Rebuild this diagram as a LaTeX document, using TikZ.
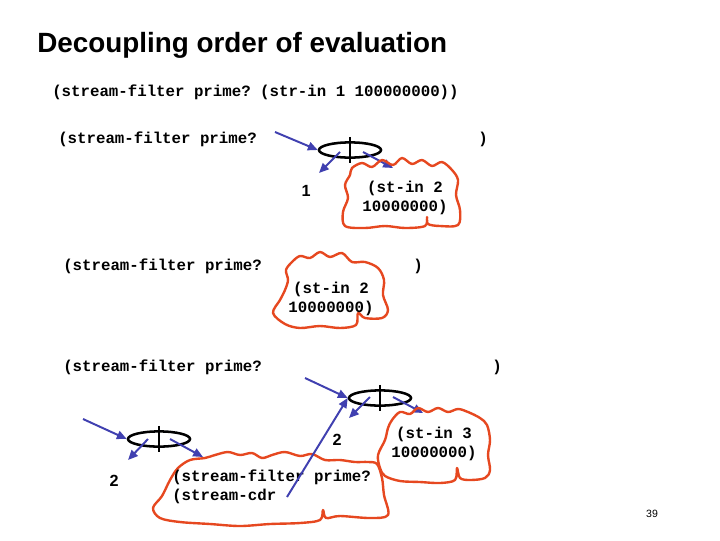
\documentclass[tikz,border=0pt]{standalone}
\usepackage{fontspec}
\setmainfont{Liberation Sans}
\setmonofont{Liberation Mono}
\usetikzlibrary{shapes.geometric}
\usetikzlibrary{arrows.meta}
\definecolor{cloudred}{RGB}{230,72,32}
\definecolor{ptrblue}{RGB}{64,64,176}

\tikzset{
	code/.style={font=\ttfamily\bfseries\fontsize{11.2}{13.5}\selectfont, inner sep=0pt},
	pair/.style={draw, ellipse, line width=1.8pt, minimum width=1.55cm, minimum height=0.38cm, inner sep=0pt},
	ptr/.style={draw=ptrblue, line width=1.4pt, -{Triangle[length=7pt,width=6pt]}},
	cloud/.style={draw=cloudred, line width=1.7pt, line join=round},
	num/.style={font=\bfseries\fontsize{11.5}{13}\selectfont, inner sep=0pt}
}

\begin{document}
\begin{tikzpicture}[x=0.025cm, y=-0.025cm]
	\useasboundingbox (0,0) rectangle (720,540);
	\node[anchor=west, inner sep=0pt, font=\bfseries\fontsize{19.8}{24}\selectfont] (title) at (37,45) {Decoupling order of evaluation};
	\node[code, anchor=west] (call) at (52,92) {(stream-filter prime? (str-in 1 100000000))};
	% first step
	\node[code, anchor=west] (open1) at (58,139) {(stream-filter prime?};
	\node[code] (close1) at (483,139) {)};
	\node[pair] (pair1) at (350,150) {};
	\draw [line width=1.4pt] ([yshift=3pt]pair1.north) -- ([yshift=-3pt]pair1.south);
	\coordinate (in1) at (275,132);
	\coordinate (car1) at (340,152);
	\coordinate (cdr1) at (363,152);
	\coordinate (head1) at (319,173);
	\coordinate (tail1) at (393,168);
	\draw [ptr] (in1) -- (pair1.west);
	\draw [ptr] (car1) -- (head1);
	\draw [ptr] (cdr1) -- (tail1);
	\node[num] (val1) at (306,191) {1};
	\draw [cloud] plot[smooth cycle, tension=0.55] coordinates {(352,168) (362,163) (372,167) (382,160) (393,165) (402,158) (412,164) (422,160) (432,166) (442,162) (452,170) (458,180) (456,195) (460,210) (458,225) (440,226) (428,224) (427,217) (425,226) (405,228) (385,226) (365,228) (345,226) (343,212) (348,198) (345,185) (350,175)};
	\node[code, align=center] (rest1) at (405,198) {(st-in 2\\10000000)};
	% second step
	\node[code, anchor=west] (open2) at (63,266) {(stream-filter prime?};
	\node[code] (close2) at (418,266) {)};
	\draw [cloud] plot[smooth cycle, tension=0.55] coordinates {(292,262) (300,256) (310,258) (320,252) (330,257) (342,253) (352,262) (365,262) (378,268) (384,280) (383,295) (388,310) (382,318) (365,318) (358,313) (356,325) (340,328) (320,326) (300,328) (285,324) (273,313) (280,300) (285,290) (288,280) (286,270)};
	\node[code, align=center] (rest2) at (331,299) {(st-in 2\\10000000)};
	% third step
	\node[code, anchor=west] (open3) at (63,367) {(stream-filter prime?};
	\node[code] (close3) at (497,367) {)};
	\node[pair] (pair3) at (380,398) {};
	\draw [line width=1.4pt] ([yshift=3pt]pair3.north) -- ([yshift=-3pt]pair3.south);
	\coordinate (in3) at (305,378);
	\coordinate (car3) at (370,397);
	\coordinate (cdr3) at (393,397);
	\coordinate (head3) at (349,418);
	\coordinate (tail3) at (423,413);
	\draw [ptr] (in3) -- (pair3.west);
	\draw [ptr] (car3) -- (head3);
	\draw [ptr] (cdr3) -- (tail3);
	\node[num] (val3) at (337,440) {2};
	\draw [cloud] plot[smooth cycle, tension=0.55] coordinates {(392,420) (400,412) (410,414) (418,408) (428,412) (438,408) (448,412) (458,409) (468,412) (480,418) (487,425) (490,440) (488,455) (490,470) (485,478) (470,480) (460,478) (457,468) (455,480) (440,483) (420,482) (400,481) (385,476) (380,468) (378,455) (385,440) (388,428)};
	\node[code, align=center] (rest3) at (434,444) {(st-in 3\\10000000)};
	% filtered out
	\node[pair] (pair2) at (159,439) {};
	\draw [line width=1.4pt] ([yshift=3pt]pair2.north) -- ([yshift=-3pt]pair2.south);
	\coordinate (in2) at (83,419);
	\coordinate (car2) at (148,439);
	\coordinate (cdr2) at (170,439);
	\coordinate (head2) at (128,460);
	\coordinate (tail2) at (203,457);
	\draw [ptr] (in2) -- (pair2.west);
	\draw [ptr] (car2) -- (head2);
	\draw [ptr] (cdr2) -- (tail2);
	\node[num] (val2) at (114,481) {2};
	\draw [cloud] plot[smooth cycle, tension=0.55] coordinates {(205,458) (215,455) (228,452) (240,455) (252,453) (262,458) (272,455) (285,452) (300,456) (312,454) (325,460) (340,460) (355,462) (368,462) (377,464) (382,478) (384,495) (388,515) (370,518) (340,516) (326,518) (323,510) (320,520) (300,523) (270,524) (240,526) (210,524) (180,522) (160,518) (153,508) (162,496) (170,480) (178,468) (190,460)};
	\node[code, anchor=west] (filt) at (172,477) {(stream-filter prime?};
	\node[code, anchor=west] (cdr) at (172,496) {(stream-cdr};
	\coordinate (cdrcall) at (287,497);
	\draw [ptr] (cdrcall) -- (pair3.west);
	\node[inner sep=0pt, font=\fontsize{7.5}{9}\selectfont] (page) at (652,514) {39};
\end{tikzpicture}
\end{document}
